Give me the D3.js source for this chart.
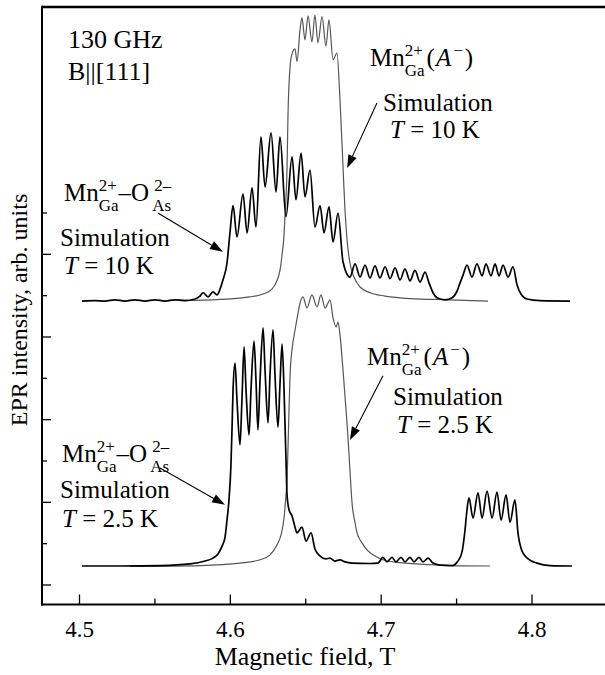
<!DOCTYPE html>
<html>
<head>
<meta charset="utf-8">
<script src="https://cdn.jsdelivr.net/npm/d3@7"></script>
<style>
  html, body { margin: 0; padding: 0; background: #fff; }
  svg { display: block; }
</style>
</head>
<body>
<svg id="chart" width="605" height="675"></svg>
<script>
// ---------------- DATA ----------------
// Mn(Ga)-O(As) simulation, T = 10 K (upper, black)
const mnO10Field = [4.5017,4.5103,4.5169,4.5235,4.5302,4.5368,4.5434,4.5501,4.5567,4.5633,4.5699,4.5766,4.5799,4.5819,4.5852,4.5885,4.5912,4.5932,4.5951,4.5978,4.5998,4.6018,4.6044,4.6084,4.6111,4.6144,4.6170,4.6203,4.6230,4.6270,4.6303,4.6329,4.6369,4.6409,4.6435,4.6469,4.6495,4.6528,4.6561,4.6595,4.6621,4.6654,4.6681,4.6714,4.6747,4.6793,4.6827,4.6860,4.6893,4.6926,4.6959,4.6992,4.7026,4.7059,4.7092,4.7125,4.7158,4.7191,4.7224,4.7258,4.7291,4.7317,4.7344,4.7370,4.7423,4.7470,4.7503,4.7523,4.7543,4.7569,4.7602,4.7635,4.7669,4.7695,4.7728,4.7755,4.7781,4.7808,4.7841,4.7874,4.7901,4.7927,4.7967,4.8053,4.8252];
const mnO10Int   = [68.7,68.8,68.7,69.0,68.7,69.0,68.7,69.0,68.7,69.0,68.8,69.2,69.9,70.7,69.7,70.9,70.2,71.6,73.8,77.9,85.4,91.8,84.2,94.6,85.2,96.1,86.6,108.4,96.3,109.4,95.1,108.4,89.1,103.6,93.2,104.5,93.9,100.4,86.6,91.8,85.2,91.5,83.0,90.0,78.2,74.5,77.7,74.5,77.4,74.3,77.2,74.3,77.0,74.1,76.7,73.8,76.5,73.6,76.1,73.3,75.7,73.1,70.7,69.5,69.0,69.5,71.1,73.1,75.0,77.4,74.5,77.7,74.8,77.7,74.8,77.7,74.8,77.4,74.5,77.0,72.6,70.4,69.2,68.8,68.7];

// Mn(Ga)(A-) simulation, T = 10 K (upper, grey)
const mnA10Field = [4.5666,4.5932,4.6130,4.6217,4.6276,4.6309,4.6329,4.6343,4.6356,4.6362,4.6376,4.6382,4.6396,4.6409,4.6429,4.6442,4.6462,4.6475,4.6495,4.6515,4.6541,4.6561,4.6581,4.6608,4.6634,4.6654,4.6681,4.6707,4.6727,4.6747,4.6760,4.6774,4.6793,4.6820,4.6860,4.6926,4.7026,4.7191,4.7456,4.7708];
const mnA10Int   = [68.8,69.1,69.7,70.4,71.6,73.6,76.1,79.9,84.7,89.1,101.2,113.3,125.4,128.5,129.7,126.6,134.3,137.2,131.9,137.7,131.4,137.9,131.2,137.5,130.4,136.7,127.1,128.7,117.4,101.2,90.8,83.4,77.9,74.5,72.1,70.7,69.9,69.3,69.0,68.7];

// Mn(Ga)-O(As) simulation, T = 2.5 K (lower, black)
const mnO25Field = [4.5017,4.5269,4.5534,4.5733,4.5832,4.5885,4.5918,4.5945,4.5965,4.5978,4.5991,4.6004,4.6011,4.6018,4.6031,4.6044,4.6064,4.6077,4.6091,4.6104,4.6124,4.6137,4.6157,4.6170,4.6183,4.6197,4.6217,4.6230,4.6250,4.6263,4.6283,4.6296,4.6316,4.6329,4.6343,4.6356,4.6369,4.6376,4.6389,4.6409,4.6429,4.6442,4.6475,4.6502,4.6535,4.6561,4.6595,4.6634,4.6661,4.6694,4.6727,4.6760,4.6807,4.6926,4.6979,4.7012,4.7039,4.7072,4.7098,4.7132,4.7158,4.7191,4.7218,4.7251,4.7277,4.7311,4.7344,4.7390,4.7470,4.7509,4.7536,4.7556,4.7569,4.7582,4.7609,4.7642,4.7669,4.7702,4.7735,4.7768,4.7795,4.7828,4.7854,4.7887,4.7907,4.7934,4.7974,4.8033,4.8119,4.8265];
const mnO25Int   = [4.6,4.6,4.7,5.1,5.8,6.5,7.5,9.4,11.6,15.7,20.6,29.0,37.5,47.2,53.7,44.8,33.9,44.8,57.6,47.2,36.3,47.2,59.0,49.6,37.5,49.6,62.2,52.0,39.2,50.8,61.7,50.8,38.2,48.4,58.3,47.2,30.3,21.8,18.2,16.7,14.0,12.6,14.0,10.6,12.6,8.7,7.0,6.3,6.5,5.8,6.1,5.6,5.3,5.2,5.3,6.7,5.6,6.7,5.6,6.7,5.6,6.7,5.6,6.7,5.6,6.5,5.3,4.8,4.7,5.8,8.0,13.3,18.2,21.1,16.2,22.3,16.2,22.7,16.2,22.5,15.7,21.8,15.2,20.6,12.6,8.2,6.3,5.3,4.7,4.6];

// Mn(Ga)(A-) simulation, T = 2.5 K (lower, grey)
const mnA25Field = [4.5335,4.5799,4.6064,4.6197,4.6263,4.6309,4.6336,4.6356,4.6369,4.6376,4.6382,4.6389,4.6396,4.6409,4.6429,4.6449,4.6462,4.6482,4.6508,4.6541,4.6575,4.6601,4.6628,4.6661,4.6681,4.6701,4.6714,4.6727,4.6747,4.6767,4.6780,4.6793,4.6807,4.6827,4.6840,4.6873,4.6906,4.6959,4.7012,4.7125,4.7238,4.7456,4.7722];
const mnA25Int   = [4.5,4.7,5.3,6.1,7.3,9.7,12.1,16.2,21.8,25.4,32.7,42.4,50.8,56.9,61.7,65.8,68.2,69.7,67.0,70.2,67.3,70.2,67.0,69.0,64.6,62.4,63.6,60.5,52.0,42.4,35.8,27.8,19.8,15.0,12.6,10.2,8.5,7.0,6.1,5.4,5.1,4.7,4.6];

// Axis ticks
const xMajorTicks = [4.5, 4.6, 4.7, 4.8];
const xMinorTicks = [4.55, 4.65, 4.75];
const yMajorTicks = [0, 20, 40, 60, 80];
const yMinorTicks = [10, 30, 50, 70, 90];

// Annotation arrows: [fromField, fromInt, toField, toInt]
const arrows = [
  [4.5520, 90.0, 4.5951, 80.6],
  [4.6972, 116.6, 4.6774, 100.9],
  [4.5534, 28.3, 4.5965, 19.4],
  [4.7012, 50.6, 4.6793, 35.1]
];

// ---------------- CHART ----------------
const FONT = "'Liberation Serif', 'DejaVu Serif', 'Times New Roman', Times, serif";
const svg = d3.select("#chart").attr("font-family", FONT);
const frameL = 42, frameR = 605, frameT = 7, frameB = 604.5;

const x = d3.scaleLinear().domain([4.5, 4.8]).range([79.5, 532]);
const y = d3.scaleLinear().domain([0, 90]).range([585, 213]);

const line = d3.line()
  .x(d => x(d[0])).y(d => y(d[1]))
  .curve(d3.curveMonotoneX);

const zip = (a, b) => a.map((v, i) => [v, b[i]]);

const series = [
  { f: mnA10Field, v: mnA10Int, color: "#555", w: 1.2 },
  { f: mnA25Field, v: mnA25Int, color: "#555", w: 1.2 },
  { f: mnO10Field, v: mnO10Int, color: "#000", w: 1.7 },
  { f: mnO25Field, v: mnO25Int, color: "#000", w: 1.7 }
];
series.forEach(s => {
  svg.append("path")
    .attr("d", line(zip(s.f, s.v)))
    .attr("fill", "none")
    .attr("stroke", s.color)
    .attr("stroke-width", s.w)
    .attr("stroke-linejoin", "round");
});

// Frame
svg.append("line").attr("x1", frameL).attr("x2", frameR).attr("y1", frameT).attr("y2", frameT)
  .attr("stroke", "#000").attr("stroke-width", 2.6);
svg.append("line").attr("x1", frameL).attr("x2", frameL).attr("y1", frameT - 1.3).attr("y2", frameB + 1)
  .attr("stroke", "#000").attr("stroke-width", 2);
svg.append("line").attr("x1", frameL - 1).attr("x2", frameR).attr("y1", frameB).attr("y2", frameB)
  .attr("stroke", "#000").attr("stroke-width", 2);

function txt(xp, yp, s, size, opts) {
  opts = opts || {};
  const t = svg.append("text").attr("x", xp).attr("y", yp)
    .attr("font-family", FONT)
    .attr("font-size", size)
    .attr("font-style", opts.italic ? "italic" : "normal")
    .attr("fill", "#000")
    .text(s);
  if (opts.anchor) t.attr("text-anchor", opts.anchor);
  if (opts.transform) t.attr("transform", opts.transform);
  return t;
}

// X axis ticks (inward)
xMajorTicks.forEach(t => {
  svg.append("line").attr("x1", x(t)).attr("x2", x(t)).attr("y1", frameB).attr("y2", frameB - 10)
    .attr("stroke", "#000").attr("stroke-width", 1.3);
  txt(x(t), 637, d3.format(".1f")(t), 23, { anchor: "middle" });
});
xMinorTicks.forEach(t => {
  svg.append("line").attr("x1", x(t)).attr("x2", x(t)).attr("y1", frameB).attr("y2", frameB - 6)
    .attr("stroke", "#000").attr("stroke-width", 1.3);
});
txt(305, 665, "Magnetic field, T", 26, { anchor: "middle" });

// Y axis ticks (inward)
yMajorTicks.forEach(t => {
  svg.append("line").attr("x1", frameL).attr("x2", frameL + 9).attr("y1", y(t)).attr("y2", y(t))
    .attr("stroke", "#000").attr("stroke-width", 1.3);
});
yMinorTicks.forEach(t => {
  svg.append("line").attr("x1", frameL).attr("x2", frameL + 5).attr("y1", y(t)).attr("y2", y(t))
    .attr("stroke", "#000").attr("stroke-width", 1.3);
});
txt(0, 0, "EPR intensity, arb. units", 24, { anchor: "middle", transform: "translate(27,310) rotate(-90)" });

// Arrows
arrows.forEach(a => {
  const x1 = x(a[0]), y1 = y(a[1]), x2 = x(a[2]), y2 = y(a[3]);
  const ang = Math.atan2(y2 - y1, x2 - x1);
  const hl = 13, hw = 4.5;
  const bx = x2 - hl * Math.cos(ang), by = y2 - hl * Math.sin(ang);
  svg.append("line").attr("x1", x1).attr("y1", y1).attr("x2", bx).attr("y2", by)
    .attr("stroke", "#000").attr("stroke-width", 1.1);
  const px = -Math.sin(ang) * hw, py = Math.cos(ang) * hw;
  svg.append("path")
    .attr("d", `M${x2},${y2}L${bx + px},${by + py}L${bx - px},${by - py}Z`)
    .attr("fill", "#000");
});

// Rich text helper (super/subscripts stacked)
function rich(x0, y0, parts, size) {
  let cx = x0;
  const small = 17;
  parts.forEach(p => {
    if (p.sup !== undefined || p.sub !== undefined) {
      let w = 0;
      if (p.sup) {
        const t = txt(cx + (p.supdx || 0), y0 - 10, p.sup, small);
        w = Math.max(w, t.node().getComputedTextLength() + (p.supdx || 0));
      }
      if (p.sub) {
        const t = txt(cx, y0 + 10, p.sub, small);
        w = Math.max(w, t.node().getComputedTextLength());
      }
      cx += w + (p.after || 0);
    } else {
      const t = txt(cx, y0, p.t, size, { italic: p.italic });
      cx += t.node().getComputedTextLength() + (p.after || 0);
    }
  });
}
const fs = 25;
const mnO = [{ t: "Mn" }, { sup: "2+", sub: "Ga" }, { t: "\u2013O", after: 3 }, { sup: "2\u2013", sub: "As", supdx: 2 }];
const mnA = [{ t: "Mn" }, { sup: "2+", sub: "Ga", after: 2 }, { t: "(", after: 1 }, { t: "A", italic: true, after: 2 }, { sup: "\u2212", after: 2 }, { t: ")" }];

txt(68, 48, "130 GHz", 26);
txt(68, 80, "B||[111]", 26);

// upper labels
rich(64, 201, mnO, fs);
txt(60, 246, "Simulation", fs);
rich(64, 274, [{ t: "T", italic: true }, { t: "\u00A0= 10 K" }], fs);

rich(370, 66, mnA, fs);
txt(383, 111, "Simulation", fs);
rich(390, 138, [{ t: "T", italic: true }, { t: "\u00A0= 10 K" }], fs);

// lower labels
rich(62, 462, mnO, fs);
txt(60, 498, "Simulation", fs);
rich(62, 527, [{ t: "T", italic: true }, { t: "\u00A0= 2.5 K" }], fs);

rich(367, 365, mnA, fs);
txt(393, 405, "Simulation", fs);
rich(397, 433, [{ t: "T", italic: true }, { t: "\u00A0= 2.5 K" }], fs);
</script>
</body>
</html>
